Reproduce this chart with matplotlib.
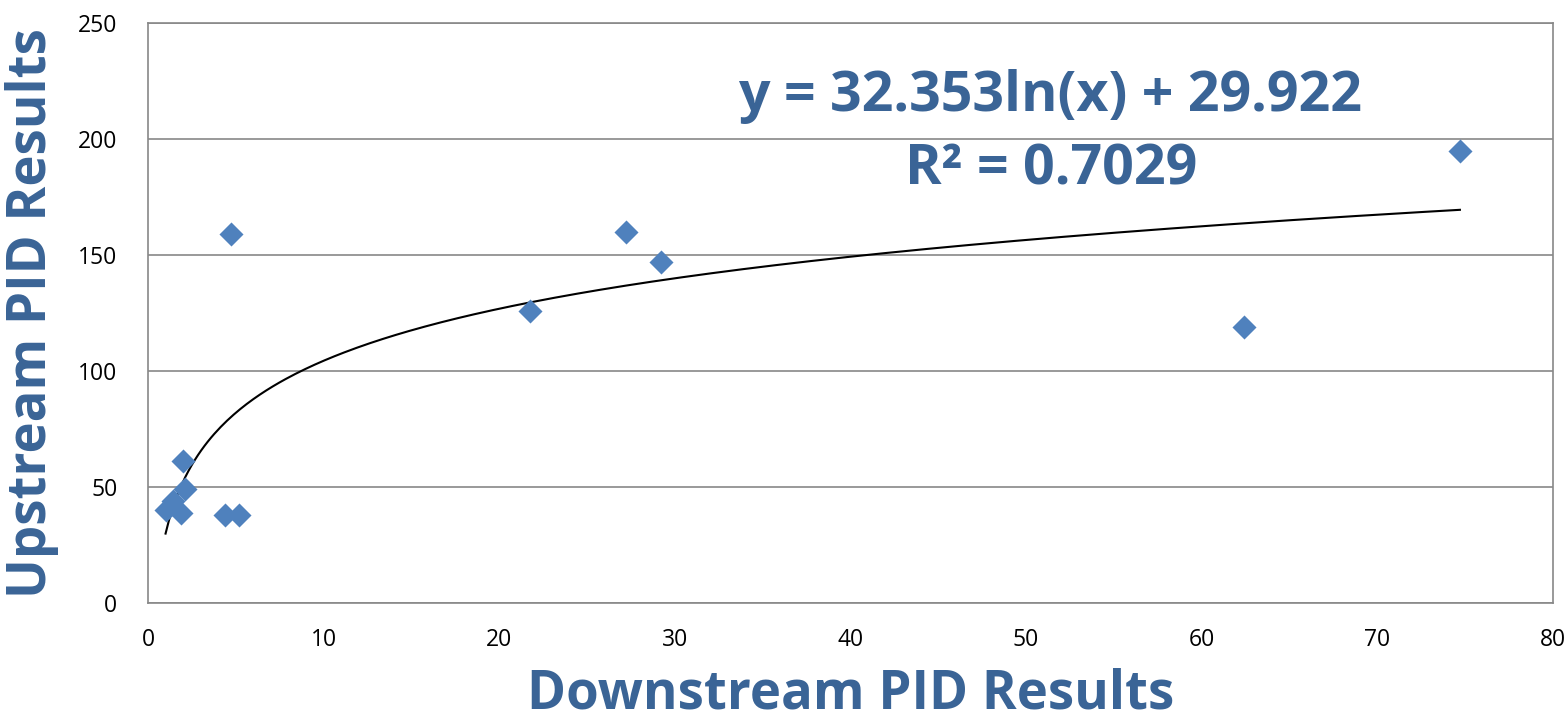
import numpy as np
import matplotlib
matplotlib.use("Agg")
import matplotlib.pyplot as plt

downstream = [1.0, 1.4, 1.9, 2.0, 2.1, 4.4, 5.2, 4.7, 21.75, 27.2, 29.2, 62.4, 74.7]
upstream = [40, 44, 39, 61, 49, 38, 38, 159, 126, 160, 147, 119, 195]
fit_a, fit_b = 32.353, 29.922
eq_text = "y = 32.353ln(x) + 29.922"
r2_text = "R² = 0.7029"
xticks = [0, 10, 20, 30, 40, 50, 60, 70, 80]
yticks = [0, 50, 100, 150, 200, 250]

label_color = "#3A6496"
marker_color = "#4F81BD"
font = "Open Sans"

fig = plt.figure(figsize=(15.67, 7.24), dpi=100)
ax = fig.add_axes([148/1567, 1-603/724, (1553-148)/1567, (603-23)/724])

ax.set_xlim(0, 80)
ax.set_ylim(0, 250)
ax.set_xticks(xticks)
ax.set_yticks(yticks)
ax.yaxis.grid(True, color="#888888", linewidth=1.2)
ax.set_axisbelow(True)
for s in ax.spines.values():
    s.set_color("#888888")
    s.set_linewidth(1.2)
ax.tick_params(length=0, labelsize=16.5)
ax.tick_params(axis="x", pad=18)
ax.tick_params(axis="y", pad=22)
for lab in ax.get_xticklabels() + ax.get_yticklabels():
    lab.set_fontfamily(font)

xs = np.linspace(min(downstream), max(downstream), 400)
ax.plot(xs, fit_a * np.log(xs) + fit_b, color="black", linewidth=1.5, zorder=2)
ax.scatter(downstream, upstream, marker="D", s=150, color=marker_color, zorder=3, linewidths=0)

ax.set_xlabel("Downstream PID Results", fontsize=38, fontweight="bold", color=label_color,
              fontfamily=font, labelpad=11)
ax.set_ylabel("Upstream PID Results", fontsize=38, fontweight="bold", color=label_color,
              fontfamily=font, labelpad=14)

ax.text(1050/1567, 1-97/724, eq_text, transform=fig.transFigure, ha="center", va="center",
        fontsize=40, fontweight="bold", color=label_color, fontfamily=font)
ax.text(1051/1567, 1-170/724, r2_text, transform=fig.transFigure, ha="center", va="center",
        fontsize=40, fontweight="bold", color=label_color, fontfamily=font)

fig.savefig("out.png", dpi=100)
